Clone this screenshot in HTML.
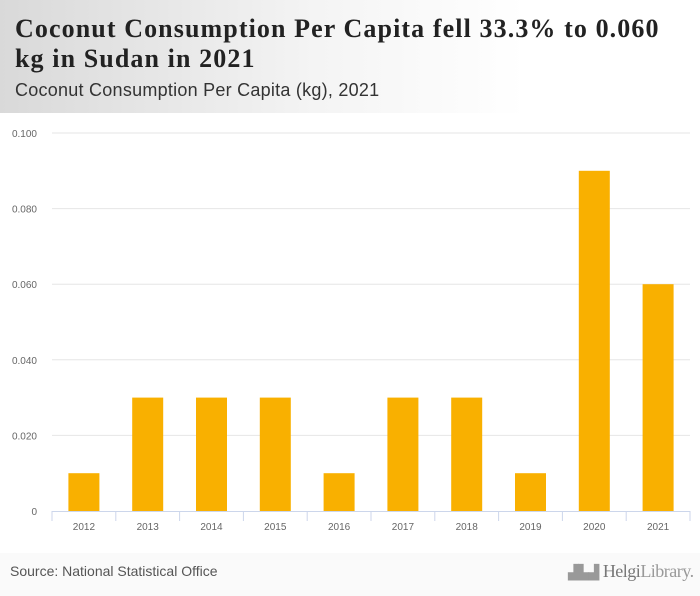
<!DOCTYPE html>
<html><head><meta charset="utf-8"><style>
body{margin:0;width:700px;height:596px;background:#fafafa;font-family:"Liberation Sans",sans-serif;overflow:hidden;position:relative}
#header{position:absolute;left:0;top:0;width:700px;height:113px;background:linear-gradient(90deg,#d9d9d9 0%,#f4f4f4 45%,#fff 75%)}
#title{position:absolute;left:15px;top:14px;font:bold 26px/30px "Liberation Serif",serif;letter-spacing:1.1px;color:#222;width:680px}
#subtitle{position:absolute;left:15px;top:80px;font:18px "Liberation Sans",sans-serif;letter-spacing:0.25px;color:#333}
#chart{position:absolute;left:0;top:113px}
#source{position:absolute;left:10px;top:563px;font:14px "Liberation Sans",sans-serif;color:#555}
#logo{position:absolute;left:568px;top:561px;font:18px "Liberation Serif",serif;color:#999;letter-spacing:-0.5px}
</style></head><body>
<div id="header"></div>
<div id="title">Coconut Consumption Per Capita fell 33.3% to 0.060<br>kg in Sudan in 2021</div>
<div id="subtitle">Coconut Consumption Per Capita (kg), 2021</div>
<svg id="chart" width="700" height="440"></svg>
<div id="source">Source: National Statistical Office</div>
<div id="logo"><span style="font-size:14px">▟▙▟</span> <span style="color:#777">Helgi</span>Library.</div>
<script>
const categories=["2012","2013","2014","2015","2016","2017","2018","2019","2020","2021"];
const values=[0.01,0.03,0.03,0.03,0.01,0.03,0.03,0.01,0.09,0.06];
const ticks=[0,0.02,0.04,0.06,0.08,0.1];
const tickLabels=["0","0.020","0.040","0.060","0.080","0.100"];
const svg=document.getElementById('chart');
const NS='http://www.w3.org/2000/svg';
const oy=113,x0=52,x1=690,y0=511-oy,yTop=133-oy;
const y=v=>y0-(v/0.1)*(y0-yTop);
const band=(x1-x0)/categories.length;
const x=i=>x0+band*i;
function mk(t,a){const e=document.createElementNS(NS,t);for(const k in a)e.setAttribute(k,a[k]);svg.appendChild(e);return e;}
const bg=mk('rect',{x:0,y:0,width:700,height:440,fill:'#fff'});


ticks.forEach((t,i)=>{
 if(t>0){const g=mk('line',{x1:x0,x2:x1,y1:y(t),y2:y(t),stroke:'#e6e6e6','stroke-width':1});
 
 }
 const l=mk('text',{x:37,y:y(t)+4,'text-anchor':'end','font-size':10,fill:'#666','font-family':'Liberation Sans, sans-serif'});
 l.textContent=tickLabels[i];
 
 
});
categories.forEach((c,i)=>{
 const bw=31,cx=x(i)+band/2;
 const b=mk('rect',{x:cx-bw/2,y:y(values[i]),width:bw,height:y0-y(values[i]),fill:'#f9b000'});
 
 
 const l=mk('text',{x:cx,y:y0+19,'text-anchor':'middle','font-size':10,fill:'#666','font-family':'Liberation Sans, sans-serif'});
 l.textContent=c;
 
 
});
for(let i=0;i<=categories.length;i++){
 const t=mk('line',{x1:x(i),x2:x(i),y1:y0,y2:y0+10,stroke:'#ccd6eb','stroke-width':1});
 
 
}
const ax=mk('line',{x1:x0,x2:x1,y1:y0+0.5,y2:y0+0.5,stroke:'#ccd6eb','stroke-width':1});


</script>
</body></html>
